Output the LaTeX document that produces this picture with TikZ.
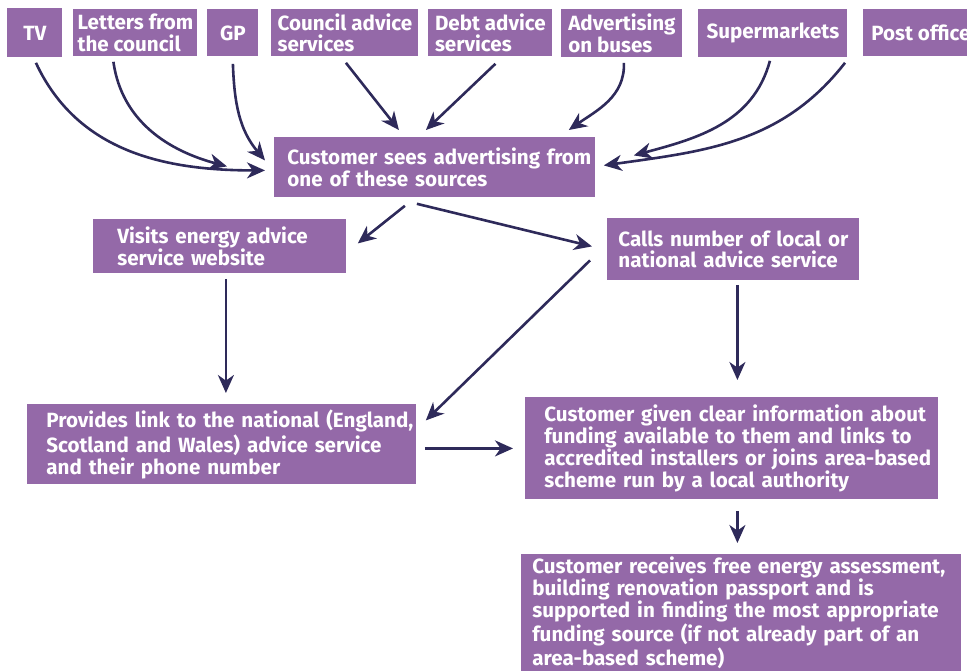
\documentclass[tikz,border=0pt]{standalone}
\usepackage{fontspec}
\setmainfont{Fira Sans}
\usetikzlibrary{arrows.meta,calc}
\definecolor{boxpurple}{RGB}{148,105,168}
\definecolor{arrownavy}{RGB}{46,42,90}

\begin{document}
\begin{tikzpicture}[
  x=0.5pt,y=-0.5pt,
  box/.style={fill=boxpurple,text=white,align=left,anchor=north west,inner ysep=0pt,font=\bfseries\fontsize{10.3}{10.9}\selectfont},
  topbox/.style={box,inner xsep=1pt},
  indent/.style={execute at begin node={\leftskip=#1}},
  arrow/.style={-{Stealth[length=9pt,width=8pt,inset=2.8pt]},line width=1.3pt,draw=arrownavy}
]
\useasboundingbox (0,0) rectangle (967,671);

% sources
\node[topbox,minimum width=27.5pt,minimum height=24.5pt] (tv) at (7,8) {TV};
\node[topbox,minimum width=62pt,minimum height=23.5pt] (letters) at (73,9) {Letters from\\the council};
\node[topbox,minimum width=25.5pt,minimum height=23.5pt] (gp) at (207,9) {GP};
\node[topbox,minimum width=73.5pt,minimum height=23.5pt] (council) at (271,9) {Council advice\\services};
\node[topbox,minimum width=62pt,minimum height=23.5pt] (debt) at (428,9) {Debt advice\\services};
\node[topbox,minimum width=60.5pt,minimum height=24pt] (buses) at (561,9) {Advertising\\on buses};
\node[topbox,minimum width=74.5pt,minimum height=24pt] (shops) at (698,9) {Supermarkets};
\node[box,inner xsep=4pt,minimum height=23.5pt] (post) at (863,9) {Post office};

% steps
\node[box,text width=159.5pt,inner xsep=0.5pt,indent=6pt,minimum height=30pt] (sees) at (274,137) {Customer sees advertising from\\one of these sources};
\node[box,text width=102.5pt,inner xsep=12pt,minimum height=27pt] (website) at (93,219) {Visits energy advice\\service website};
\node[box,text width=115pt,inner xsep=5.5pt,minimum height=31pt] (calls) at (607,218) {Calls number of local or\\national advice service};
\node[box,text width=193.5pt,inner xsep=0.5pt,indent=9pt,minimum height=40pt] (link) at (27,404) {Provides link to the national (England,\\Scotland and Wales) advice service\\and their phone number};
\node[box,text width=201.5pt,inner xsep=2.5pt,indent=7pt,minimum height=51pt] (given) at (525,397) {Customer given clear information about\\funding available to them and links to\\accredited installers or joins area-based\\scheme run by a local authority};
\node[box,text width=215pt,inner xsep=2.5pt,indent=3pt,minimum height=58.5pt] (receives) at (521,554) {Customer receives free energy assessment,\\building renovation passport and is\\supported in finding the most appropriate\\funding source (if not already part of an\\area-based scheme)};

% sources to advertising
\draw[arrow] ($(tv.south)+(1,5)$) to[out=-65,in=180] ($(sees.west)+(-9,3)$);
\draw[arrow] ($(letters.south)+(-22,5)$) to[out=-82,in=165] ($(sees.west)+(-47,-1)$);
\draw[arrow] ($(gp.south)+(0,7)$) to[out=-88,in=130] ($(sees.west)+(-9,-7)$);
\draw[arrow] ($(council.south)+(1,6)$) -- ($(sees.north)+(-36,-7)$);
\draw[arrow] ($(debt.south)+(5,7)$) -- ($(sees.north)+(-9,-7)$);
\draw[arrow] ($(buses.south)+(2,5)$) to[out=-88,in=35] ($(sees.north east)+(-27,-7)$);
\draw[arrow] ($(shops.south)+(-3,3)$) to[out=-105,in=15] ($(sees.east)+(38,-12)$);
\draw[arrow] ($(post.south west)+(-18,6)$) to[out=-128,in=8] ($(sees.east)+(8,-2)$);

% flow
\draw[arrow] ($(sees.south)+(-30,8)$) -- ($(website.east)+(11,-3)$);
\draw[arrow] ($(sees.south)+(-18,6)$) -- ($(calls.west)+(-15,-3)$);
\draw[arrow] ($(website.south)+(6,5)$) -- ($(link.north)+(4,-11)$);
\draw[arrow] ($(calls.south)+(4,4)$) -- ($(given.north)+(5.5,-17)$);
\draw[arrow] ($(calls.west)+(-17,11)$) -- ($(link.east)+(9,-24)$);
\draw[arrow] ($(link.east)+(8,4)$) -- ($(given.west)+(-12,0)$);
\draw[arrow] ($(given.south)+(5.5,11)$) -- ($(receives.north)+(-4,-11)$);
\end{tikzpicture}
\end{document}
